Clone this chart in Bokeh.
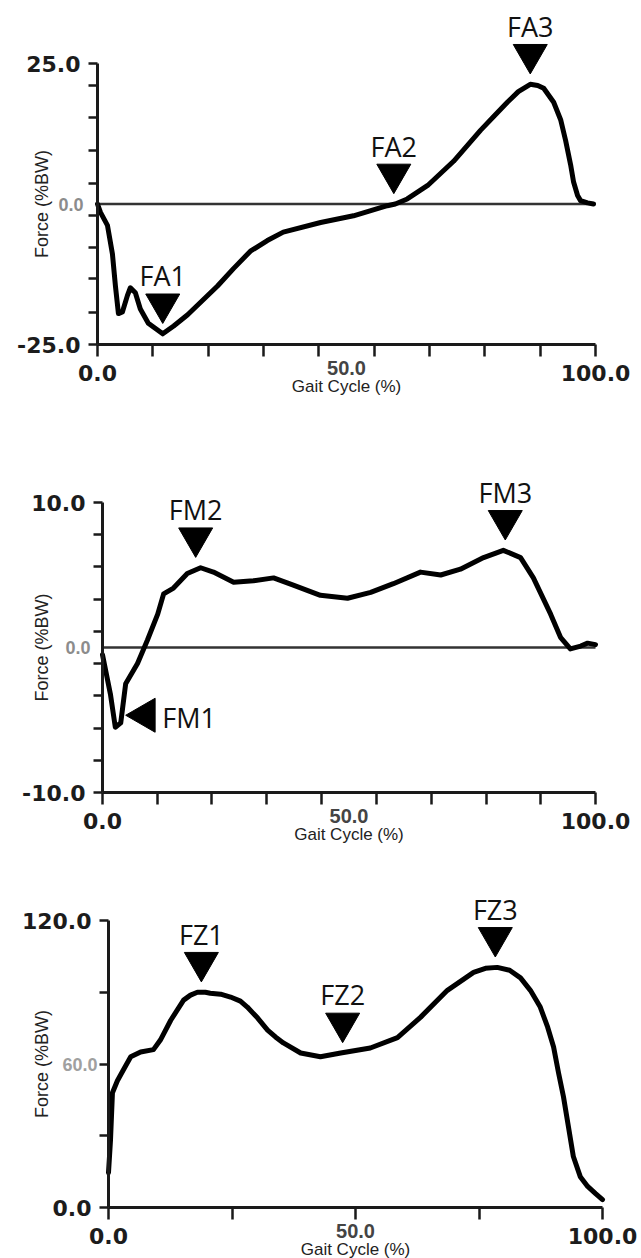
import math
from bokeh.plotting import figure
from bokeh.layouts import column
from bokeh.models import FixedTicker, Label, Range1d, PrintfTickFormatter
from bokeh.embed import file_html
from bokeh.resources import INLINE

# ---------------- data ----------------
# Panel A (anterior-posterior force)
fa_x = [0, 0.6, 2.0, 3.0, 3.6, 4.2, 5.0, 6.0, 6.6, 7.6, 8.6, 10.2, 13.1, 15.3, 18.1,
        24.1, 27.3, 30.7, 34.1, 37.3, 44.8, 51.4, 58.2, 59.8, 62.2, 66.3, 71.5, 76.9,
        79.7, 82.3, 84.5, 86.9, 88.4, 89.6, 91.6, 93.0, 94.0, 95.0, 95.6, 96.4, 97.0,
        98.4, 99.6]
fa_y = [0, -1.5, -3.8, -8.9, -14.6, -19.5, -19.2, -16.3, -14.9, -15.8, -18.7, -21.2, -23.1,
        -21.7, -19.7, -14.6, -11.5, -8.4, -6.5, -5.0, -3.3, -2.1, -0.3, 0, 0.9, 3.3, 7.6,
        13.1, 15.7, 18.1, 20.0, 21.3, 21.1, 20.6, 18.1, 15.0, 11.3, 7.0, 3.9, 1.5, 0.6,
        0.2, 0]
fa_event_x = [13.1, 59.5, 86.9]
fa_event_y = [-23.1, 0.0, 21.3]
fa_event_names = ["FA1", "FA2", "FA3"]
fa_y_ticks = [-25, 25]
fa_y_minor = [21.1, 15.4, 9.5, 3.6, -2.0, -7.7, -13.3, -19.3]

# Panel M (medio-lateral force)
fm_x = [0, 1.6, 2.6, 3.7, 4.7, 7.1, 9.1, 11.2, 12.4, 14.4, 17.2, 19.9, 22.5, 26.6, 30.6,
        34.7, 38.7, 44.2, 49.7, 54.4, 59.0, 64.5, 68.6, 72.6, 77.3, 81.3, 84.8, 87.4,
        90.9, 92.9, 94.9, 97.0, 98.4, 100.0]
fm_y = [-0.5, -3.2, -5.5, -5.2, -2.5, -1.1, 0.5, 2.3, 3.7, 4.1, 5.1, 5.5, 5.2, 4.5, 4.6,
        4.8, 4.3, 3.6, 3.4, 3.8, 4.4, 5.2, 5.0, 5.4, 6.2, 6.7, 6.2, 4.8, 2.3, 0.7, -0.1,
        0.1, 0.3, 0.2]
fm_event_x = [18.9, 81.7]
fm_event_y = [5.5, 6.7]
fm_event_names = ["FM2", "FM3"]
fm1_x = [2.6]
fm1_y = [-5.5]
fm1_name = "FM1"
fm_y_ticks = [-10, 10]
fm_y_minor = [7.8, 5.6, 3.3, 1.1, -1.1, -3.3, -5.6, -7.8]

# Panel Z (vertical force)
fz_x = [0, 0.4, 0.8, 1.8, 3.0, 4.5, 6.5, 9.1, 10.5, 12.6, 15.2, 16.6, 18.0, 19.6, 20.6,
        22.7, 24.7, 26.7, 28.1, 30.2, 32.2, 33.8, 35.4, 38.9, 42.9, 47.0, 53.0, 58.5,
        63.2, 68.6, 73.9, 76.3, 78.7, 81.2, 83.4, 85.4, 87.4, 88.9, 90.1, 91.1, 92.1,
        93.1, 94.1, 95.5, 97.0, 98.6, 100.0]
fz_y = [14.6, 28, 48, 53, 57.5, 63, 65, 66, 70, 78.3, 86.7, 88.8, 90, 90, 89.6,
        89.2, 88, 86.3, 83.8, 79.2, 74.2, 71.3, 68.8, 64.6, 63, 64.6, 66.7, 71,
        79.6, 90.8, 98.3, 100.0, 100.4, 99.2, 96, 90.8, 83.8, 75.4, 67.1, 56.3, 46.3,
        33.8, 21.3, 12.9, 8.8, 5.8, 3.3]
fz_event_x = [18.8, 47.4, 78.3]
fz_event_y = [90.0, 64.6, 100.4]
fz_event_names = ["FZ1", "FZ2", "FZ3"]
fz_y_ticks = [0, 120]
fz_y_minor = [30, 60, 90]

x_major = [0, 100]
x_minor_9 = [11.1, 22.2, 33.3, 44.4, 55.6, 66.7, 77.8, 88.9]
x_minor_4 = [25, 50, 75]
x_mid_value = 50
x_mid_text = "50.0"
x_title = "Gait Cycle (%)"
y_title = "Force (%BW)"

BIG_FONT = "DejaVu Sans"
SMALL_FONT = "Liberation Sans"
EVENT_FONT = "Open Sans"
W = 641


def build(height, left_px, right_px, y_lo, y_hi, top_px, bottom_px, yticks, yminor,
          xminor, cx, cy, ex, ey, enames, mid_val, mid_text, mid_off, mid_color,
          zero_line):
    # layout: pixel positions of the axes inside this canvas
    ppx = (right_px - left_px) / 100.0
    ppu = (bottom_px - top_px) / (y_hi - y_lo)
    xr = Range1d(-left_px / ppx, (W - left_px) / ppx)
    yr = Range1d(y_lo - (height - bottom_px) / ppu, y_hi + top_px / ppu)
    p = figure(width=W, height=height, x_range=xr, y_range=yr, output_backend="svg",
               toolbar_location=None, min_border=0, min_border_left=0,
               min_border_right=0, min_border_top=0, min_border_bottom=0)
    p.outline_line_color = None
    p.xgrid.visible = False
    p.ygrid.visible = False
    p.background_fill_color = "white"
    p.border_fill_color = "white"

    for ax, ticks, minor, tick_len in ((p.xaxis, x_major, xminor, 12),
                                       (p.yaxis, yticks, yminor, 9)):
        ax.ticker = FixedTicker(ticks=ticks, minor_ticks=minor)
        ax.formatter = PrintfTickFormatter(format="%.1f")
        ax.axis_line_width = 3
        ax.axis_line_color = "#1a1a1a"
        ax.major_tick_in = 0
        ax.major_tick_out = tick_len
        ax.minor_tick_in = 0
        ax.minor_tick_out = tick_len
        ax.major_tick_line_width = 2.5
        ax.minor_tick_line_width = 2.5
        ax.major_tick_line_color = "#1a1a1a"
        ax.minor_tick_line_color = "#1a1a1a"
        ax.major_label_text_font = BIG_FONT
        ax.major_label_text_font_style = "bold"
        ax.major_label_text_font_size = "22px"
        ax.major_label_text_color = "#1c1c1c"
        ax.major_label_standoff = 8
    p.xaxis.bounds = (0, 100)
    p.yaxis.bounds = (y_lo, y_hi)
    p.xaxis.fixed_location = y_lo
    p.yaxis.fixed_location = 0

    if zero_line:
        p.segment(x0=[0], y0=[0], x1=[100], y1=[0], line_color="#333333", line_width=2.5)

    p.line(cx, cy, line_width=5, line_color="black", line_join="round",
           line_cap="round")

    if ex:
        my = [v + 30 / ppu for v in ey]
        p.scatter(ex, my, marker="inverted_triangle", size=34, fill_color="black",
                  line_color="black")
        for x, v, name in zip(ex, ey, enames):
            p.add_layout(Label(x=x, y=v, y_offset=58, text=name, text_align="center",
                               text_baseline="middle", text_font=EVENT_FONT,
                               text_font_size="27px", text_color="#111111"))

    # small grey middle tick label on the y axis
    p.add_layout(Label(x=0, y=mid_val, x_offset=-mid_off, text=mid_text,
                       text_align="right", text_baseline="middle", text_font=SMALL_FONT,
                       text_font_style="bold", text_font_size="18px",
                       text_color=mid_color))
    # y axis title
    p.add_layout(Label(x=0, y=(y_lo + y_hi) / 2, x_offset=41 - left_px, text=y_title,
                       angle=math.pi / 2, text_align="center", text_baseline="middle",
                       text_font=SMALL_FONT, text_font_size="18px", text_color="#222222"))
    # x axis middle label and title
    p.add_layout(Label(x=x_mid_value, y=y_lo, y_offset=-23, text=x_mid_text,
                       text_align="center", text_baseline="middle", text_font=SMALL_FONT,
                       text_font_style="bold", text_font_size="20px",
                       text_color="#444444"))
    p.add_layout(Label(x=x_mid_value, y=y_lo, y_offset=-42, text=x_title,
                       text_align="center", text_baseline="middle", text_font=SMALL_FONT,
                       text_font_size="17px", text_color="#222222"))
    return p, ppu, ppx


p1, _, _ = build(420, 97, 595, -25, 25, 63, 344, fa_y_ticks, fa_y_minor, x_minor_9,
                 fa_x, fa_y, fa_event_x, fa_event_y, fa_event_names, 0, "0.0", 14,
                 "#8c8c8c", True)

p2, ppu2, ppx2 = build(425, 102, 595, -10, 10, 82, 372, fm_y_ticks, fm_y_minor,
                       x_minor_9, fm_x, fm_y, fm_event_x, fm_event_y, fm_event_names,
                       0, "0.0", 12, "#8c8c8c", True)
# FM1: left-pointing marker to the right of the trough
p2.scatter([x + 30 / ppx2 for x in fm1_x], [y + 12 / ppu2 for y in fm1_y],
           marker="triangle", angle=math.pi / 2, size=34, fill_color="black",
           line_color="black")
p2.add_layout(Label(x=fm1_x[0], y=fm1_y[0], x_offset=47, y_offset=10, text=fm1_name,
                    text_align="left", text_baseline="middle", text_font=EVENT_FONT,
                    text_font_size="27px", text_color="#111111"))

p3, _, _ = build(413, 108, 602, 0, 120, 75, 362, fz_y_ticks, fz_y_minor, x_minor_4,
                 fz_x, fz_y, fz_event_x, fz_event_y, fz_event_names, 60, "60.0", 11,
                 "#a0a0a0", False)

layout = column(p1, p2, p3, spacing=0)
open("out.html", "w").write(file_html(layout, INLINE))
